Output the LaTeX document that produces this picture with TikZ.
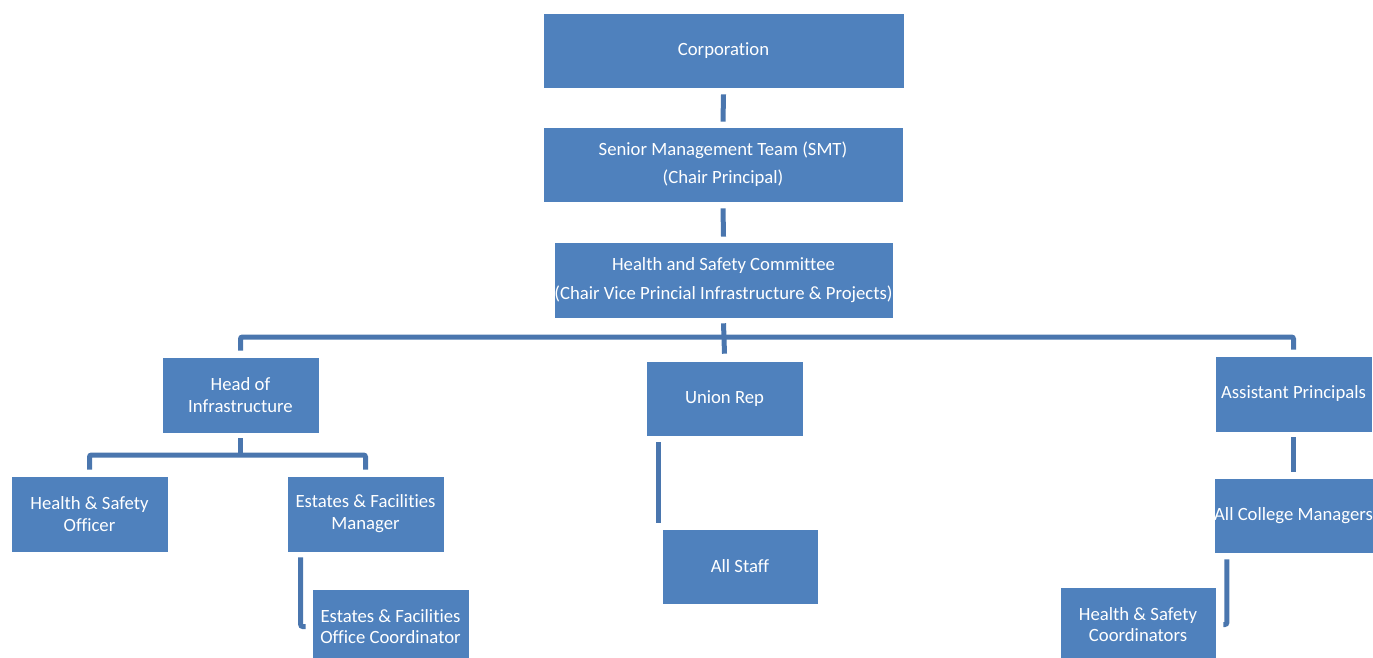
\documentclass[tikz,border=0pt]{standalone}
\usepackage{fontspec}
\setmainfont[Ligatures = NoCommon]{Carlito}
\usepackage{tikz}
\usetikzlibrary{positioning}
\definecolor{boxblue}{HTML}{4F81BD}
\definecolor{linkblue}{HTML}{4A76AE}
\tikzset{box/.style = {fill = boxblue, draw = white, line width = 0.6pt, text = white,
                       inner sep = 0, minimum width = 157, minimum height = 75, align = center,
                       font = \fontsize{18.7}{21.8}\selectfont}}
\tikzset{link/.style = {draw = linkblue, line width = 5pt, rounded corners = 2pt}}

\begin{document}
\begin{tikzpicture}[x = 1pt, y = -1pt]
    \useasboundingbox (0, 0) rectangle (1373, 658);
    \node [box, minimum width = 361] (corp) at (723.5, 50.5) {Corporation};
    \node [box, minimum width = 360] (smt) at (723, 164.5)
      {Senior Management Team (SMT)\\[6.5pt](Chair Principal)};
    \node [box, minimum width = 339, minimum height = 76] (hsc) at (723.5, 280)
      {Health and Safety Committee\\[6.5pt](Chair Vice Princial Infrastructure \& Projects)};
    \node [box, minimum height = 76] (hoi) at (240.5, 395) {Head of\\Infrastructure};
    \node [box] (union) at (724.5, 398.5) {Union Rep};
    \node [box, minimum height = 76] (ap) at (1293.5, 394) {Assistant Principals};
    \node [box, minimum height = 76] (hso) at (89.5, 514) {Health \& Safety\\Officer};
    \node [box, minimum height = 76] (efm) at (365.5, 514) {Estates \& Facilities\\Manager};
    \node [box] (efoc) at (390.5, 626.5) {Estates \& Facilities\\Office Coordinator};
    \node [box, minimum width = 156] (staff) at (740, 566.5) {All Staff};
    \node [box] (acm) at (1293.5, 515.5) {All College Managers};
    \node [box, minimum width = 156] (hsco) at (1138, 624.5) {Health \& Safety\\Coordinators};
    \coordinate (bus) at (723.5, 337);
    \coordinate (hoibus) at (240.5, 455);
    \draw [link] ([yshift = -6]corp.south) -- ([yshift = 5]smt.north);
    \draw [link] ([yshift = -6]smt.south) -- ([yshift = 5]hsc.north);
    \draw [link] ([yshift = -5]hsc.south) -- ([yshift = 7]union.north);
    \draw [link] ([yshift = 6]hoi.north) |- (bus) -| ([yshift = 6]ap.north);
    \draw [link] ([yshift = -5]hoi.south) -- (hoibus);
    \draw [link] ([yshift = 6]hso.north) |- (hoibus) -| ([yshift = 6]efm.north);
    \draw [link] ([xshift = 14, yshift = -5]efm.south west) |- ([xshift = -6]efoc.west);
    \draw [link] ([xshift = 13, yshift = -6]union.south west) -- ([xshift = -3, yshift = 6]staff.north west);
    \draw [link] ([yshift = -5]ap.south) -- ([yshift = 6]acm.north);
    \draw [link] ([xshift = 13, yshift = -6]acm.south west) |- ([xshift = 7]hsco.east);
  \end{tikzpicture}
\end{document}
